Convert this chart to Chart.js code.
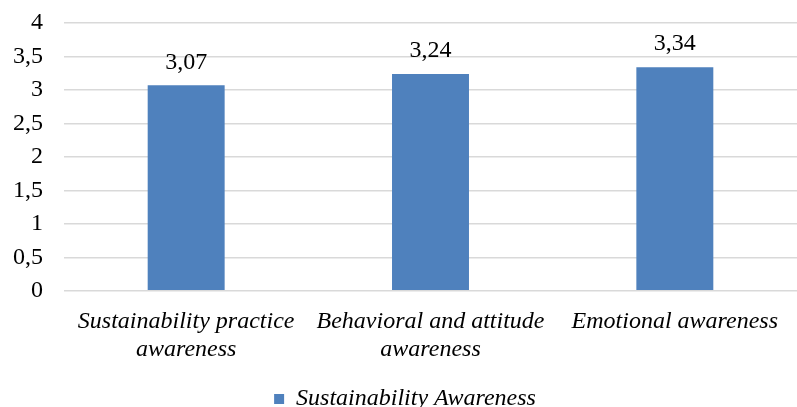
<!DOCTYPE html>
<html lang="en">
  <head>
    <meta charset="UTF-8" />
    <title>Sustainability Awareness</title>
    <script src="https://cdn.jsdelivr.net/npm/chart.js@4"></script>
    <style>
      body {
        margin: 0;
        background: #fff;
      }
      .chart-box {
        width: 797px;
        height: 407px;
      }
    </style>
  </head>
  <body>
    <div class="chart-box">
      <canvas id="myChart"></canvas>
    </div>
    <script>
      const categories = [
        ["Sustainability practice", "awareness"],
        ["Behavioral and attitude", "awareness"],
        ["Emotional awareness"],
      ];
      const seriesName = "Sustainability Awareness";
      const awarenessValues = [3.07, 3.24, 3.34];

      const serif = "'Liberation Serif', 'Times New Roman', serif";
      const comma = (v) => String(v).replace(".", ",");

      // value labels above each bar
      const barLabels = {
        id: "barLabels",
        afterDatasetsDraw(chart) {
          const ctx = chart.ctx;
          const meta = chart.getDatasetMeta(0);
          ctx.save();
          ctx.font = "24px " + serif;
          ctx.fillStyle = "#000";
          ctx.textAlign = "center";
          ctx.textBaseline = "middle";
          meta.data.forEach((bar, i) => {
            ctx.fillText(awarenessValues[i].toFixed(2).replace(".", ","), bar.x, bar.y - 23);
          });
          ctx.restore();
        },
      };

      new Chart(document.getElementById("myChart"), {
        type: "bar",
        data: {
          labels: categories,
          datasets: [
            {
              label: seriesName,
              data: awarenessValues,
              backgroundColor: "#4f81bd",
              borderWidth: 0,
              barPercentage: 0.315,
              categoryPercentage: 1,
            },
          ],
        },
        options: {
          responsive: true,
          maintainAspectRatio: false,
          animation: false,
          layout: { padding: { left: 13, right: 0, top: 23, bottom: -14 } },
          scales: {
            x: {
              grid: { display: false },
              border: { display: false },
              ticks: {
                color: "#000",
                font: { family: serif, size: 24, style: "italic", lineHeight: 1.17 },
                padding: 9,
                maxRotation: 0,
              },
              afterFit: (scale) => {
                scale.height += 14;
                scale.paddingLeft = 0;
                scale.paddingRight = 0;
              },
            },
            y: {
              min: 0,
              max: 4,
              border: { display: false },
              grid: { color: "#d9d9d9", lineWidth: 1.5, drawTicks: false },
              ticks: {
                stepSize: 0.5,
                autoSkip: false,
                color: "#000",
                padding: 21,
                font: { family: serif, size: 24 },
                callback: (v) => comma(v),
              },
              afterFit: (scale) => {
                scale.width = 51;
                scale.paddingTop = 0;
                scale.paddingBottom = 0;
              },
            },
          },
          plugins: {
            legend: {
              position: "bottom",
              labels: {
                color: "#000",
                boxWidth: 10,
                boxHeight: 10,
                padding: 0,
                font: { family: serif, size: 24, style: "italic" },
              },
            },
            tooltip: { enabled: false },
          },
        },
        plugins: [barLabels],
      });
    </script>
  </body>
</html>
